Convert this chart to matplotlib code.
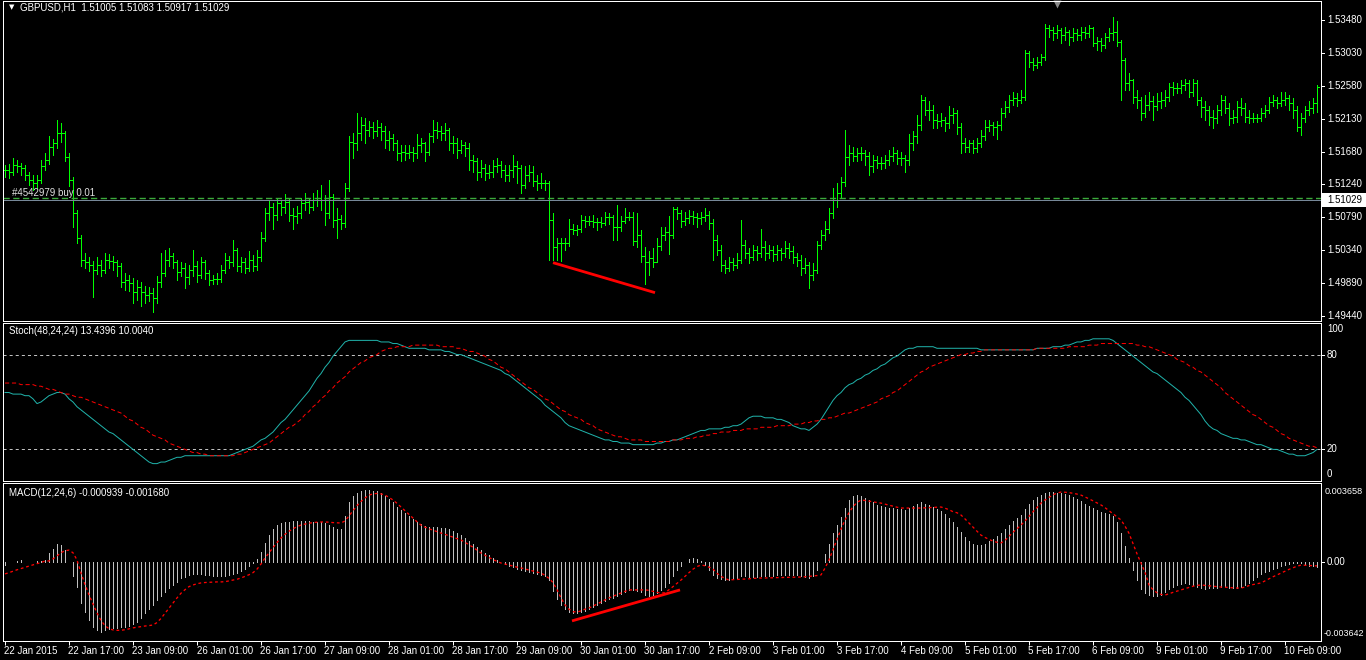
import numpy as np
import matplotlib.pyplot as plt
from matplotlib import transforms
from matplotlib.patches import Rectangle

plt.rcParams['font.family'] = ['Liberation Sans', 'DejaVu Sans']
plt.rcParams['lines.scale_dashes'] = False

# ---- values: GBPUSD H1, one entry per hourly bar ----
time_labels = ['22 Jan 2015', '22 Jan 17:00', '23 Jan 09:00', '26 Jan 01:00', '26 Jan 17:00',
               '27 Jan 09:00', '28 Jan 01:00', '28 Jan 17:00', '29 Jan 09:00', '30 Jan 01:00',
               '30 Jan 17:00', '2 Feb 09:00', '3 Feb 01:00', '3 Feb 17:00', '4 Feb 09:00',
               '5 Feb 01:00', '5 Feb 17:00', '6 Feb 09:00', '9 Feb 01:00', '9 Feb 17:00',
               '10 Feb 09:00']
label_every = 16  # bars between time labels

close = [
    1.5143, 1.5141, 1.5150, 1.5148, 1.5146, 1.5137, 1.5130, 1.5126, 1.5130, 1.5148,
    1.5157, 1.5175, 1.5180, 1.5194, 1.5194, 1.5161, 1.5130, 1.5085, 1.5051, 1.5021,
    1.5017, 1.5014, 1.5007, 1.5014, 1.5007, 1.5021, 1.5019, 1.5017, 1.5012, 1.4991,
    1.4993, 1.4989, 1.4977, 1.4984, 1.4977, 1.4973, 1.4975, 1.4969, 1.4991, 1.5003,
    1.5021, 1.5026, 1.5017, 1.5004, 1.5010, 1.4997, 1.5007, 1.5012, 1.5000, 1.5017,
    1.5003, 1.4993, 1.4995, 1.4995, 1.5007, 1.5021, 1.5017, 1.5034, 1.5012, 1.5017,
    1.5010, 1.5021, 1.5012, 1.5025, 1.5051, 1.5085, 1.5093, 1.5082, 1.5098, 1.5093,
    1.5100, 1.5082, 1.5080, 1.5085, 1.5098, 1.5100, 1.5093, 1.5102, 1.5105, 1.5102,
    1.5085, 1.5107, 1.5075, 1.5077, 1.5071, 1.5119, 1.5182, 1.5180, 1.5194, 1.5205,
    1.5198, 1.5202, 1.5196, 1.5202, 1.5196, 1.5184, 1.5187, 1.5180, 1.5166, 1.5168,
    1.5166, 1.5168, 1.5166, 1.5177, 1.5180, 1.5168, 1.5189, 1.5198, 1.5196, 1.5194,
    1.5198, 1.5180, 1.5180, 1.5171, 1.5177, 1.5173, 1.5157, 1.5155, 1.5141, 1.5146,
    1.5139, 1.5141, 1.5148, 1.5150, 1.5143, 1.5137, 1.5143, 1.5148, 1.5146, 1.5123,
    1.5137, 1.5141, 1.5128, 1.5126, 1.5126, 1.5126, 1.5075, 1.5038, 1.5044, 1.5044,
    1.5044, 1.5063, 1.5061, 1.5062, 1.5075, 1.5073, 1.5073, 1.5072, 1.5072, 1.5071,
    1.5079, 1.5079, 1.5066, 1.5066, 1.5074, 1.5079, 1.5079, 1.5046, 1.5055, 1.5026,
    1.5017, 1.5023, 1.5017, 1.5040, 1.5055, 1.5059, 1.5054, 1.5090, 1.5085, 1.5074,
    1.5078, 1.5081, 1.5079, 1.5078, 1.5079, 1.5082, 1.5071, 1.5048, 1.5034, 1.5014,
    1.5010, 1.5017, 1.5014, 1.5021, 1.5041, 1.5030, 1.5025, 1.5034, 1.5030, 1.5038,
    1.5030, 1.5034, 1.5028, 1.5034, 1.5030, 1.5037, 1.5032, 1.5025, 1.5021, 1.5010,
    1.5014, 1.5000, 1.5007, 1.5041, 1.5055, 1.5063, 1.5085, 1.5102, 1.5112, 1.5127,
    1.5161, 1.5166, 1.5162, 1.5166, 1.5166, 1.5162, 1.5148, 1.5157, 1.5153, 1.5153,
    1.5157, 1.5162, 1.5166, 1.5160, 1.5160, 1.5157, 1.5180, 1.5189, 1.5205, 1.5239,
    1.5225, 1.5225, 1.5212, 1.5210, 1.5212, 1.5207, 1.5218, 1.5221, 1.5202, 1.5180,
    1.5175, 1.5180, 1.5173, 1.5180, 1.5189, 1.5202, 1.5205, 1.5202, 1.5205, 1.5221,
    1.5229, 1.5239, 1.5241, 1.5239, 1.5243, 1.5303, 1.5291, 1.5287, 1.5291, 1.5298,
    1.5337, 1.5334, 1.5330, 1.5334, 1.5328, 1.5332, 1.5325, 1.5330, 1.5328, 1.5332,
    1.5330, 1.5337, 1.5317, 1.5319, 1.5314, 1.5325, 1.5330, 1.5332, 1.5318, 1.5293,
    1.5262, 1.5266, 1.5243, 1.5239, 1.5221, 1.5232, 1.5237, 1.5230, 1.5237, 1.5239,
    1.5243, 1.5257, 1.5255, 1.5255, 1.5259, 1.5262, 1.5250, 1.5262, 1.5239, 1.5229,
    1.5225, 1.5216, 1.5214, 1.5225, 1.5239, 1.5228, 1.5214, 1.5216, 1.5229, 1.5228,
    1.5216, 1.5214, 1.5214, 1.5214, 1.5221, 1.5225, 1.5236, 1.5239, 1.5235, 1.5239,
    1.5241, 1.5235, 1.5225, 1.5202, 1.5214, 1.5225, 1.5228, 1.5235, 1.5257,
]

high = [
    1.5150, 1.5152, 1.5160, 1.5157, 1.5153, 1.5150, 1.5141, 1.5136, 1.5137, 1.5157,
    1.5166, 1.5190, 1.5186, 1.5212, 1.5207, 1.5196, 1.5166, 1.5134, 1.5089, 1.5055,
    1.5030, 1.5025, 1.5019, 1.5025, 1.5021, 1.5030, 1.5028, 1.5026, 1.5021, 1.5016,
    1.5003, 1.5000, 1.4996, 1.4993, 1.4991, 1.4985, 1.4984, 1.4982, 1.4998, 1.5030,
    1.5034, 1.5037, 1.5030, 1.5021, 1.5017, 1.5016, 1.5014, 1.5034, 1.5019, 1.5025,
    1.5021, 1.5007, 1.5000, 1.5002, 1.5014, 1.5030, 1.5026, 1.5048, 1.5037, 1.5025,
    1.5023, 1.5032, 1.5027, 1.5034, 1.5059, 1.5091, 1.5102, 1.5098, 1.5105, 1.5102,
    1.5110, 1.5105, 1.5091, 1.5094, 1.5105, 1.5112, 1.5105, 1.5112, 1.5116, 1.5123,
    1.5109, 1.5130, 1.5110, 1.5091, 1.5082, 1.5125, 1.5189, 1.5194, 1.5221, 1.5216,
    1.5214, 1.5210, 1.5209, 1.5212, 1.5207, 1.5203, 1.5196, 1.5193, 1.5184, 1.5177,
    1.5177, 1.5178, 1.5175, 1.5193, 1.5187, 1.5182, 1.5194, 1.5212, 1.5209, 1.5203,
    1.5207, 1.5200, 1.5189, 1.5187, 1.5184, 1.5182, 1.5180, 1.5164, 1.5160, 1.5157,
    1.5152, 1.5150, 1.5157, 1.5159, 1.5155, 1.5150, 1.5150, 1.5164, 1.5155, 1.5150,
    1.5148, 1.5150, 1.5148, 1.5137, 1.5139, 1.5130, 1.5128, 1.5084, 1.5050, 1.5050,
    1.5051, 1.5077, 1.5070, 1.5068, 1.5082, 1.5081, 1.5080, 1.5082, 1.5078, 1.5079,
    1.5086, 1.5085, 1.5082, 1.5095, 1.5080, 1.5091, 1.5086, 1.5086, 1.5085, 1.5061,
    1.5038, 1.5032, 1.5037, 1.5051, 1.5066, 1.5066, 1.5081, 1.5093, 1.5093, 1.5089,
    1.5086, 1.5089, 1.5087, 1.5085, 1.5086, 1.5091, 1.5087, 1.5077, 1.5055, 1.5041,
    1.5021, 1.5025, 1.5023, 1.5030, 1.5075, 1.5048, 1.5037, 1.5041, 1.5039, 1.5062,
    1.5046, 1.5041, 1.5039, 1.5041, 1.5037, 1.5046, 1.5044, 1.5039, 1.5030, 1.5027,
    1.5023, 1.5018, 1.5016, 1.5046, 1.5061, 1.5073, 1.5091, 1.5118, 1.5125, 1.5134,
    1.5198, 1.5178, 1.5175, 1.5173, 1.5175, 1.5171, 1.5168, 1.5164, 1.5162, 1.5161,
    1.5164, 1.5171, 1.5175, 1.5171, 1.5168, 1.5164, 1.5193, 1.5196, 1.5218, 1.5246,
    1.5243, 1.5237, 1.5232, 1.5219, 1.5221, 1.5216, 1.5230, 1.5228, 1.5225, 1.5207,
    1.5187, 1.5184, 1.5184, 1.5187, 1.5198, 1.5212, 1.5212, 1.5209, 1.5210, 1.5228,
    1.5237, 1.5246, 1.5250, 1.5248, 1.5253, 1.5307, 1.5305, 1.5296, 1.5298, 1.5302,
    1.5343, 1.5341, 1.5339, 1.5341, 1.5337, 1.5339, 1.5334, 1.5337, 1.5336, 1.5339,
    1.5339, 1.5341, 1.5339, 1.5325, 1.5323, 1.5330, 1.5337, 1.5352, 1.5346, 1.5321,
    1.5296, 1.5275, 1.5268, 1.5253, 1.5243, 1.5246, 1.5250, 1.5244, 1.5248, 1.5250,
    1.5253, 1.5262, 1.5264, 1.5262, 1.5266, 1.5268, 1.5266, 1.5268, 1.5266, 1.5243,
    1.5237, 1.5230, 1.5225, 1.5232, 1.5246, 1.5244, 1.5234, 1.5225, 1.5237, 1.5241,
    1.5234, 1.5225, 1.5221, 1.5220, 1.5228, 1.5232, 1.5243, 1.5246, 1.5243, 1.5250,
    1.5250, 1.5246, 1.5241, 1.5230, 1.5221, 1.5230, 1.5237, 1.5241, 1.5259,
]

low = [
    1.5134, 1.5132, 1.5136, 1.5141, 1.5137, 1.5130, 1.5123, 1.5116, 1.5119, 1.5126,
    1.5143, 1.5152, 1.5164, 1.5173, 1.5182, 1.5155, 1.5121, 1.5066, 1.5043, 1.5012,
    1.5009, 1.5005, 1.4970, 1.5001, 1.4998, 1.5003, 1.5010, 1.5007, 1.4998, 1.4984,
    1.4980, 1.4978, 1.4962, 1.4966, 1.4957, 1.4962, 1.4964, 1.4950, 1.4962, 1.4984,
    1.4998, 1.5012, 1.5010, 1.4993, 1.4998, 1.4982, 1.4987, 1.4998, 1.4991, 1.4996,
    1.4994, 1.4986, 1.4988, 1.4987, 1.4991, 1.5003, 1.5009, 1.5012, 1.5005, 1.5004,
    1.5003, 1.5005, 1.5005, 1.5007, 1.5019, 1.5046, 1.5075, 1.5062, 1.5075, 1.5082,
    1.5084, 1.5073, 1.5062, 1.5071, 1.5078, 1.5089, 1.5084, 1.5089, 1.5094, 1.5089,
    1.5068, 1.5078, 1.5066, 1.5050, 1.5062, 1.5066, 1.5114, 1.5160, 1.5171, 1.5184,
    1.5180, 1.5190, 1.5187, 1.5189, 1.5184, 1.5173, 1.5171, 1.5170, 1.5157, 1.5155,
    1.5157, 1.5159, 1.5155, 1.5160, 1.5168, 1.5155, 1.5164, 1.5182, 1.5187, 1.5184,
    1.5184, 1.5171, 1.5166, 1.5160, 1.5166, 1.5162, 1.5143, 1.5141, 1.5130, 1.5134,
    1.5130, 1.5132, 1.5134, 1.5141, 1.5134, 1.5128, 1.5128, 1.5134, 1.5126, 1.5112,
    1.5118, 1.5128, 1.5121, 1.5116, 1.5118, 1.5116, 1.5021, 1.5021, 1.5021, 1.5019,
    1.5034, 1.5039, 1.5056, 1.5055, 1.5059, 1.5066, 1.5068, 1.5066, 1.5061, 1.5066,
    1.5068, 1.5070, 1.5048, 1.5048, 1.5060, 1.5071, 1.5075, 1.5041, 1.5038, 1.5017,
    1.4987, 1.5000, 1.5011, 1.5017, 1.5034, 1.5048, 1.5028, 1.5050, 1.5077, 1.5066,
    1.5068, 1.5071, 1.5070, 1.5066, 1.5070, 1.5073, 1.5062, 1.5021, 1.5027, 1.5005,
    1.5003, 1.5005, 1.5007, 1.5009, 1.5016, 1.5023, 1.5016, 1.5021, 1.5021, 1.5025,
    1.5021, 1.5023, 1.5019, 1.5021, 1.5021, 1.5025, 1.5023, 1.5016, 1.5012, 1.5000,
    1.5003, 1.4982, 1.4993, 1.5002, 1.5035, 1.5048, 1.5057, 1.5078, 1.5093, 1.5105,
    1.5121, 1.5150, 1.5155, 1.5155, 1.5157, 1.5150, 1.5137, 1.5141, 1.5146, 1.5144,
    1.5146, 1.5150, 1.5155, 1.5152, 1.5150, 1.5141, 1.5150, 1.5171, 1.5180, 1.5198,
    1.5218, 1.5212, 1.5200, 1.5200, 1.5203, 1.5196, 1.5200, 1.5207, 1.5193, 1.5166,
    1.5168, 1.5168, 1.5166, 1.5168, 1.5175, 1.5184, 1.5196, 1.5191, 1.5186, 1.5198,
    1.5216, 1.5223, 1.5232, 1.5230, 1.5234, 1.5239, 1.5284, 1.5280, 1.5282, 1.5286,
    1.5293, 1.5325, 1.5321, 1.5323, 1.5316, 1.5321, 1.5314, 1.5319, 1.5321, 1.5321,
    1.5323, 1.5325, 1.5312, 1.5307, 1.5305, 1.5310, 1.5319, 1.5321, 1.5312, 1.5239,
    1.5253, 1.5253, 1.5234, 1.5228, 1.5212, 1.5216, 1.5225, 1.5212, 1.5225, 1.5228,
    1.5230, 1.5237, 1.5246, 1.5248, 1.5248, 1.5253, 1.5243, 1.5244, 1.5232, 1.5216,
    1.5212, 1.5205, 1.5200, 1.5207, 1.5218, 1.5221, 1.5205, 1.5207, 1.5209, 1.5218,
    1.5209, 1.5207, 1.5209, 1.5209, 1.5210, 1.5216, 1.5221, 1.5230, 1.5228, 1.5230,
    1.5232, 1.5225, 1.5214, 1.5196, 1.5191, 1.5209, 1.5218, 1.5221, 1.5223,
]

# Stochastic(48,24,24): main (%K) and signal (%D)
stoch_main = [
    56, 56, 55, 55, 55, 54, 54, 52, 49, 50, 52, 54, 55, 56, 56, 55, 52, 50, 47, 45,
    43, 41, 39, 37, 35, 33, 31, 30, 28, 26, 24, 22, 20, 18, 16, 14, 12, 11, 11, 12,
    12, 13, 14, 15, 15, 16, 16, 16, 16, 16, 16, 16, 16, 16, 16, 16, 16, 17, 18, 19,
    20, 21, 22, 24, 26, 27, 29, 31, 34, 37, 39, 42, 45, 48, 51, 54, 57, 61, 65, 68,
    72, 75, 79, 82, 85, 88, 89, 89, 89, 89, 89, 89, 89, 89, 88, 88, 88, 87, 87, 86,
    85, 84, 84, 84, 84, 84, 83, 83, 83, 83, 82, 82, 81, 80, 80, 79, 78, 77, 76, 75,
    74, 73, 72, 71, 70, 68, 67, 65, 63, 61, 59, 57, 55, 53, 51, 48, 46, 44, 42, 40,
    37, 35, 34, 33, 32, 31, 30, 29, 28, 27, 26, 26, 25, 25, 24, 24, 24, 23, 23, 23,
    23, 23, 23, 24, 24, 25, 25, 26, 26, 27, 28, 29, 30, 31, 32, 32, 33, 33, 33, 33,
    34, 34, 35, 35, 36, 38, 40, 41, 41, 41, 40, 40, 40, 39, 39, 38, 37, 35, 34, 33,
    33, 32, 34, 36, 39, 43, 47, 51, 54, 56, 59, 61, 62, 64, 65, 67, 68, 70, 71, 73,
    74, 76, 78, 79, 81, 83, 84, 84, 85, 85, 85, 85, 85, 84, 84, 84, 84, 84, 84, 84,
    84, 84, 84, 84, 83, 83, 83, 83, 83, 83, 83, 83, 83, 83, 83, 83, 83, 83, 84, 84,
    84, 84, 85, 85, 85, 86, 86, 87, 88, 88, 89, 89, 90, 90, 90, 90, 90, 89, 87, 85,
    83, 81, 79, 77, 75, 73, 71, 69, 68, 66, 64, 62, 60, 58, 56, 53, 51, 48, 45, 42,
    38, 35, 33, 32, 30, 29, 28, 27, 27, 26, 26, 25, 24, 23, 23, 22, 21, 20, 20, 19,
    18, 17, 17, 16, 16, 16, 17, 18, 20,
]
stoch_signal = [
    62, 62, 62, 62, 61, 61, 61, 61, 60, 60, 59, 58, 58, 57, 56, 55, 55, 54, 53, 53,
    52, 51, 50, 49, 48, 47, 46, 45, 44, 43, 41, 39, 38, 36, 34, 33, 31, 29, 28, 27,
    26, 24, 23, 22, 21, 20, 19, 18, 18, 17, 17, 16, 16, 16, 16, 16, 16, 16, 17, 17,
    18, 19, 20, 21, 22, 23, 24, 26, 28, 30, 32, 34, 35, 37, 39, 42, 44, 47, 49, 52,
    54, 57, 59, 62, 64, 66, 69, 71, 73, 75, 76, 78, 79, 80, 82, 83, 84, 84, 85, 85,
    85, 85, 86, 86, 86, 86, 86, 86, 86, 85, 85, 85, 85, 84, 84, 83, 82, 82, 81, 80,
    79, 77, 76, 74, 72, 71, 69, 67, 65, 63, 61, 59, 58, 56, 54, 52, 51, 49, 47, 45,
    44, 42, 41, 40, 39, 37, 36, 35, 33, 32, 31, 30, 29, 28, 28, 27, 26, 26, 26, 26,
    25, 25, 25, 25, 25, 25, 25, 26, 26, 26, 27, 27, 27, 28, 28, 29, 29, 30, 30, 31,
    31, 31, 32, 32, 32, 33, 33, 33, 33, 34, 34, 34, 34, 35, 35, 35, 35, 36, 36, 36,
    37, 37, 38, 38, 39, 39, 40, 40, 41, 42, 43, 43, 44, 45, 46, 47, 48, 49, 50, 52,
    53, 54, 56, 57, 59, 61, 63, 65, 67, 69, 70, 72, 73, 74, 75, 76, 77, 78, 79, 80,
    80, 81, 81, 82, 82, 83, 83, 83, 83, 83, 83, 83, 83, 83, 83, 83, 83, 83, 84, 84,
    84, 84, 84, 84, 84, 84, 85, 85, 85, 85, 85, 86, 86, 86, 87, 87, 87, 87, 87, 87,
    87, 87, 87, 86, 86, 85, 85, 84, 83, 82, 81, 80, 79, 77, 76, 75, 73, 72, 70, 69,
    67, 65, 63, 61, 59, 56, 54, 52, 50, 48, 46, 44, 42, 41, 39, 37, 35, 34, 32, 30,
    29, 27, 26, 25, 24, 23, 22, 22, 21,
]

# MACD(12,24,6): histogram (main) and signal, in units of 1e-5
macd_main = [
    -15, 2, 2, 3, 10, 2, 2, 2, 3, 3,
    10, 44, 63, 88, 83, 58, 2, -68, -122, -200,
    -244, -282, -317, -331, -341, -331, -326, -321, -321, -317,
    -317, -312, -302, -292, -273, -248, -229, -209, -185, -166,
    -146, -127, -112, -97, -78, -73, -63, -58, -58, -60,
    -62, -65, -68, -70, -70, -68, -65, -60, -55, -45,
    -35, -20, -5, 15, 50, 95, 130, 160, 180, 190,
    195, 197, 198, 198, 200, 200, 198, 197, 196, 195,
    190, 180, 170, 160, 160, 225, 290, 320, 335, 345,
    350, 350, 348, 345, 335, 320, 305, 290, 270, 255,
    240, 225, 210, 195, 185, 175, 170, 172, 172, 168,
    165, 160, 150, 140, 130, 115, 100, 90, 75, 60,
    45, 35, 20, 10, 0, -10, -20, -25, -35, -40,
    -45, -50, -55, -60, -65, -68, -90, -140, -180, -210,
    -230, -245, -250, -250, -245, -240, -230, -220, -210, -200,
    -190, -180, -175, -165, -155, -145, -135, -135, -140, -145,
    -160, -165, -160, -150, -135, -120, -100, -70, -40, -20,
    0, 15, 20, 15, 5, -15, -40, -65, -80, -85,
    -90, -90, -85, -80, -70, -70, -72, -72, -72, -70,
    -70, -68, -68, -65, -65, -62, -62, -62, -65, -70,
    -75, -80, -70, -40, 0, 40, 90, 140, 180, 220,
    265, 300, 320, 325, 320, 310, 300, 290, 280, 275,
    270, 265, 262, 260, 258, 255, 265, 275, 285, 290,
    285, 280, 270, 260, 250, 235, 215, 195, 170, 145,
    120, 100, 90, 85, 85, 90, 100, 110, 125, 140,
    160, 180, 200, 215, 230, 260, 285, 300, 315, 325,
    335, 340, 340, 338, 335, 330, 325, 315, 305, 295,
    285, 275, 265, 255, 245, 240, 235, 225, 195, 140,
    80, 20, -40, -90, -130, -150, -160, -165, -165, -160,
    -145, -130, -120, -110, -105, -100, -105, -110, -120, -128,
    -130, -128, -125, -125, -122, -122, -125, -128, -125, -120,
    -112, -100, -88, -75, -60, -50, -42, -35, -28, -20,
    -15, -10, -5, -3, -5, -12, -18, -20, -22,
]
macd_signal = [
    -58, -52, -45, -38, -32, -26, -20, -14, -8, -3,
    5, 5, 15, 30, 45, 55, 58, 45, 10, -54,
    -110, -160, -205, -248, -285, -310, -325, -331, -333, -333,
    -330, -326, -321, -318, -315, -312, -310, -307, -295, -275,
    -250, -225, -200, -175, -152, -135, -120, -112, -106, -102,
    -100, -99, -98, -97, -97, -96, -92, -88, -84, -78,
    -70, -62, -52, -35, -10, 19, 45, 70, 95, 117,
    135, 150, 162, 172, 180, 185, 189, 192, 194, 195,
    195, 194, 192, 191, 190, 200, 225, 250, 275, 295,
    312, 326, 332, 334, 332, 326, 315, 302, 286, 268,
    250, 232, 214, 196, 180, 170, 162, 155, 148, 141,
    135, 128, 121, 114, 107, 96, 84, 72, 58, 44,
    33, 22, 12, 3, -5, -10, -15, -20, -25, -29,
    -34, -39, -44, -49, -54, -65, -80, -100, -135, -175,
    -209, -230, -242, -244, -238, -230, -224, -215, -205, -195,
    -185, -175, -167, -159, -151, -143, -136, -136, -136, -136,
    -136, -138, -143, -148, -151, -150, -135, -120, -104, -88,
    -70, -52, -35, -22, -15, -18, -25, -35, -55, -70,
    -80, -88, -86, -85, -84, -83, -82, -80, -79, -78,
    -78, -77, -77, -76, -76, -75, -75, -74, -74, -73,
    -72, -70, -68, -66, -63, -30, 10, 60, 110, 160,
    205, 240, 270, 290, 302, 300, 297, 293, 290, 287,
    282, 277, 272, 267, 263, 263, 263, 263, 263, 263,
    264, 265, 266, 267, 268, 262, 255, 245, 240, 229,
    210, 190, 170, 150, 131, 120, 110, 102, 96, 93,
    105, 125, 145, 162, 180, 200, 222, 245, 265, 287,
    302, 315, 327, 336, 341, 340, 338, 335, 331, 326,
    317, 308, 298, 288, 278, 265, 250, 235, 220, 205,
    175, 140, 90, 40, -5, -50, -112, -135, -150, -158,
    -161, -155, -148, -142, -136, -130, -124, -118, -114, -112,
    -114, -116, -118, -120, -122, -123, -124, -126, -127, -127,
    -122, -115, -110, -106, -102, -92, -82, -72, -63, -54,
    -45, -36, -28, -21, -15, -16, -17, -18, -19,
]

price_ticks = [1.53480, 1.53030, 1.52580, 1.52130, 1.51680, 1.51240,
               1.50790, 1.50340, 1.49890, 1.49440]
bid_price = 1.51029
order_price = 1.51045
# hand-drawn divergence lines: (bar, value) end points
price_trend_x, price_trend_y = [137, 162.5], [1.50167, 1.49758]
macd_trend_x, macd_trend_y = [141.75, 168.75], [-0.00287, -0.00136]

# ---- layout in pixels, like the terminal window ----
W, H = 1366, 660
PX = 0.72          # one pixel in points at 100 dpi
LEFT, RIGHT = 3, 1321
SPAN = RIGHT - LEFT
GREEN = '#00ff00'

fig = plt.figure(figsize=(W / 100, H / 100), dpi=100, facecolor='black')


def add_panel(top, bottom):
    ax = fig.add_axes([LEFT / W, 1 - bottom / H, SPAN / W, (bottom - top) / H])
    ax.set_facecolor('black')
    for s in ax.spines.values():
        s.set_color('white')
        s.set_linewidth(PX)
    ax.set_xticks([])
    ax.set_yticks([])
    ax.set_xlim(-0.5, SPAN / 4 - 0.5)
    return ax


def fig_text(x, y, s, **kw):
    kw.setdefault('color', 'white')
    kw.setdefault('fontsize', 7)
    kw.setdefault('va', 'center')
    kw.setdefault('ha', 'left')
    fig.text(x / W, 1 - y / H, s, **kw)


def right_label(ax, y, s):
    tr = transforms.blended_transform_factory(ax.transAxes, ax.transData)
    ax.plot([1, 1 + 3 / SPAN], [y, y], transform=tr, color='white', lw=PX, clip_on=False)
    ax.text(1 + 6 / SPAN, y, s, transform=tr, color='white', fontsize=7,
            va='center', ha='left', clip_on=False)


# ---- price panel ----
ax = add_panel(1, 321)
ax.set_ylim(1.49371, 1.53739)
n = min(len(close), len(high), len(low))
x = np.arange(n)
c = np.array(close[:n])
opens = np.concatenate([[c[0]], c[:-1]])
ax.vlines(x, low[:n], high[:n], colors=GREEN, lw=PX, antialiased=False)
ax.hlines(opens, x - 0.45, x, colors=GREEN, lw=PX, antialiased=False)
ax.hlines(c, x, x + 0.45, colors=GREEN, lw=PX, antialiased=False)

ax.axhline(order_price, color='#3caa3c', lw=PX * 1.4, dashes=(4.5, 2.5))
ax.axhline(bid_price, color='#778899', lw=PX)
ax.plot(price_trend_x, price_trend_y, color='#ff0000', lw=2.0, solid_capstyle='butt')

for p in price_ticks:
    right_label(ax, p, f'{p:.5f}')

tr_top = transforms.blended_transform_factory(ax.transData, ax.transAxes)
ax.plot([263], [1 - 2.5 / 320], marker='v', ms=6, color='#8a8a8a', mec='none',
        transform=tr_top, clip_on=False)

fig.add_artist(Rectangle((1322 / W, 1 - 207 / H), 44 / W, 14 / H,
                         transform=fig.transFigure, facecolor='white', edgecolor='none'))
fig_text(1327, 200, f'{bid_price:.5f}', color='black')

fig_text(9, 7.5, '\u25bc', fontsize=5, family=['DejaVu Sans'])
fig_text(20, 7.5, 'GBPUSD,H1  1.51005 1.51083 1.50917 1.51029')
fig_text(12, 193, '#4542979 buy 0.01', color='#e0e0e0')

# ---- stochastic panel ----
axs = add_panel(323, 481)
axs.set_ylim(0, 100)
for lvl in (80, 20):
    axs.axhline(lvl, color='#c0c0c0', lw=PX, dashes=(2.2, 2.2))
axs.plot(np.arange(len(stoch_main)), stoch_main, color='#20b2aa', lw=PX)
axs.plot(np.arange(len(stoch_signal)), stoch_signal, color='#ff0000', lw=PX,
         dashes=(3.0, 2.0))
fig_text(9, 331, 'Stoch(48,24,24) 13.4396 10.0040')
fig_text(1327, 329, '100')
right_label(axs, 80, '80')
right_label(axs, 20, '20')
fig_text(1327, 474, '0')

# ---- MACD panel ----
axm = add_panel(483, 641)
axm.set_ylim(-0.00385, 0.00385)
hist = np.array(macd_main) * 1e-5
axm.vlines(np.arange(len(hist)), 0, hist, colors='#c0c0c0', lw=PX, antialiased=False)
axm.plot(np.arange(len(macd_signal)), np.array(macd_signal) * 1e-5, color='#ff0000',
         lw=PX * 1.3, dashes=(2.0, 2.0))
axm.plot(macd_trend_x, macd_trend_y, color='#ff0000', lw=2.0, solid_capstyle='butt')
fig_text(9, 492.5, 'MACD(12,24,6) -0.000939 -0.001680')
fig_text(1325, 491, '0.003658', fontsize=6.6)
right_label(axm, 0.0, '0.00')
fig_text(1324, 634, '-0.003642', fontsize=6.4)

# time axis
ticks = np.arange(0, len(time_labels) * label_every, label_every)
axm.set_xticks(ticks)
axm.tick_params(axis='x', direction='out', length=4 * PX, width=PX, colors='white',
                labelbottom=False)
for k, lab in zip(ticks, time_labels):
    fig_text(LEFT + (k + 0.5) * 4 - 0.5, 650.5, lab)

fig.savefig('out.png', dpi=100, facecolor='black')
